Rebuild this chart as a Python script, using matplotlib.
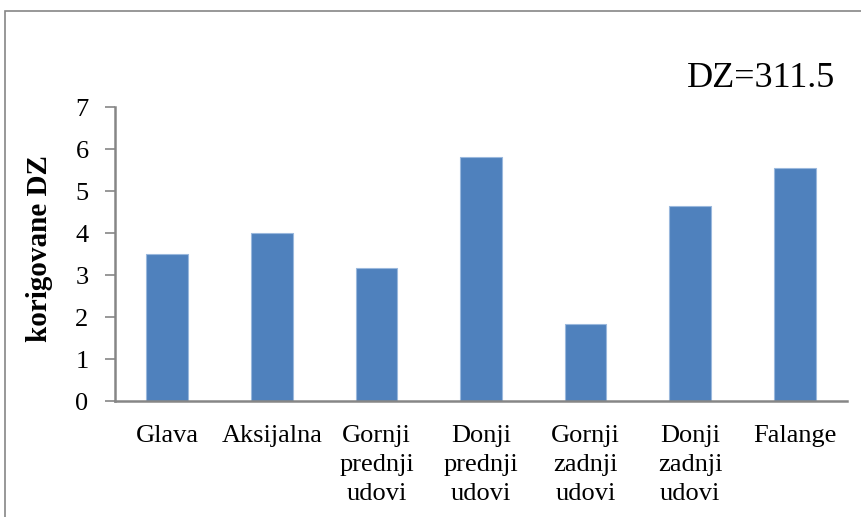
import numpy as np
import matplotlib.pyplot as plt
from matplotlib.patches import Rectangle

categories = ['Glava', 'Aksijalna', 'Gornji\nprednji\nudovi', 'Donji\nprednji\nudovi',
              'Gornji\nzadnji\nudovi', 'Donji\nzadnji\nudovi', 'Falange']
values = [3.5, 4.0, 3.16, 5.8, 1.83, 4.64, 5.54]
yticks = [0, 1, 2, 3, 4, 5, 6, 7]

plt.rcParams['font.family'] = ['Liberation Serif', 'DejaVu Serif']

fig = plt.figure(figsize=(8.62, 5.17), dpi=100)
ax = fig.add_axes([115/862, 1 - 401/517, 732/862, 294/517])

x = np.arange(len(categories))
ax.bar(x, values, width=0.4, color='#4F81BD', edgecolor='#9AB8DD', linewidth=0.8)

ax.set_xlim(-0.5, len(categories) - 0.5)
ax.set_ylim(0, 7)
ax.set_yticks(yticks)
ax.set_xticks(x)
ax.set_xticklabels(categories, fontsize=19, linespacing=1.42)
ax.tick_params(axis='x', length=0, pad=17)
ax.tick_params(axis='y', labelsize=19, length=7, width=1.2, color='#868686', pad=12, direction='out')

for s in ['top', 'right']:
    ax.spines[s].set_visible(False)
for s in ['left', 'bottom']:
    ax.spines[s].set_color('#868686')
    ax.spines[s].set_linewidth(1.8)

fig.text(40/862, 1 - 249/517, 'korigovane DZ', rotation=90, fontsize=21, fontweight='bold',
         ha='center', va='center')
fig.text(835/862, 1 - 87/517, 'DZ=311.5', fontsize=26, ha='right', va='baseline')

fig.patches.append(Rectangle((5/862, -0.1), 2, 1 - 11/517 + 0.1, transform=fig.transFigure,
                             fill=False, edgecolor='#868686', linewidth=1.2))

fig.savefig('out.png', dpi=100)
